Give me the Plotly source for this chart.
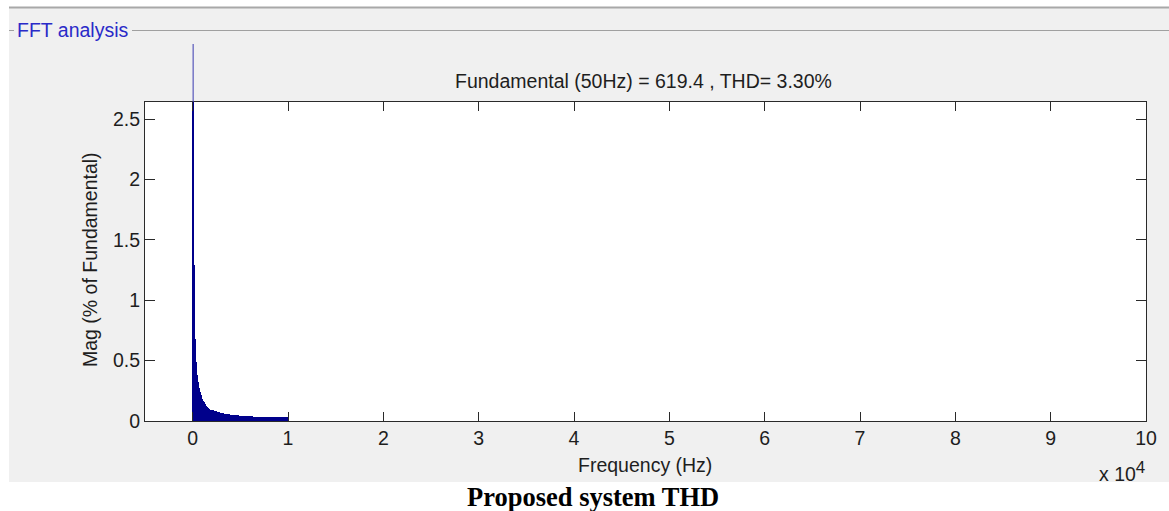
import plotly.graph_objects as go

# ---- data ----
fundamental_freq_hz = 50
fundamental_pct = 100.0          # fundamental bar, % of fundamental
title_text = "Fundamental (50Hz) = 619.4 , THD= 3.30%"

# harmonic magnitudes (% of fundamental) for harmonic orders 2, 3, 4, ... up to 10 kHz
harmonic_mag_pct = [
    1.31, 1.29, 0.72, 0.68, 0.55, 0.49, 0.42, 0.38, 0.34, 0.32,
    0.29, 0.27, 0.25, 0.24, 0.225, 0.215, 0.20, 0.19, 0.18, 0.175,
    0.167, 0.16, 0.155, 0.148, 0.14, 0.133, 0.127, 0.122, 0.117, 0.113,
    0.108, 0.104, 0.10, 0.097,
    0.095, 0.094, 0.093, 0.092, 0.091, 0.090, 0.089, 0.088, 0.086, 0.085, 0.083,
    0.082, 0.081, 0.080, 0.078, 0.077, 0.076, 0.075, 0.074, 0.072, 0.070,
    0.068, 0.067, 0.067, 0.066, 0.066, 0.065, 0.065, 0.064, 0.064,
    0.057, 0.056, 0.056, 0.056, 0.055, 0.055, 0.055, 0.055, 0.054, 0.054,
    0.054, 0.054, 0.053, 0.053, 0.053, 0.053, 0.052, 0.052, 0.052,
    0.047, 0.047, 0.047, 0.047, 0.046, 0.046, 0.046, 0.046, 0.046, 0.046,
    0.046, 0.046, 0.045, 0.045, 0.045, 0.045, 0.045, 0.045, 0.045, 0.045,
    0.045, 0.045, 0.045, 0.045, 0.045, 0.044, 0.044, 0.044, 0.044, 0.044,
    0.044, 0.044, 0.044, 0.044, 0.044, 0.044, 0.044, 0.044, 0.043, 0.043,
    0.036, 0.036, 0.036, 0.036, 0.036, 0.036, 0.036, 0.036, 0.036, 0.036,
    0.036, 0.036, 0.036, 0.036, 0.036, 0.036, 0.036, 0.036, 0.036, 0.036,
    0.035, 0.035, 0.035, 0.035, 0.035, 0.035, 0.035, 0.035, 0.035, 0.035,
    0.035, 0.035, 0.035, 0.035, 0.035, 0.035, 0.035, 0.035, 0.035, 0.035,
    0.035, 0.035, 0.035, 0.035, 0.035, 0.035, 0.035, 0.035, 0.035, 0.035,
    0.034, 0.034, 0.034, 0.034, 0.034, 0.034, 0.034, 0.034, 0.034, 0.034,
    0.034, 0.034, 0.034, 0.034, 0.034, 0.034, 0.034, 0.034, 0.034, 0.034,
    0.034, 0.034, 0.034, 0.034, 0.034, 0.034,
]
harmonic_freq_hz = [fundamental_freq_hz * (i + 2) for i in range(len(harmonic_mag_pct))]

x_tick_vals = [0, 10000, 20000, 30000, 40000, 50000, 60000, 70000, 80000, 90000, 100000]
x_tick_text = ["0", "1", "2", "3", "4", "5", "6", "7", "8", "9", "10"]
y_tick_vals = [0, 0.5, 1, 1.5, 2, 2.5]
y_tick_text = ["0", "0.5", "1", "1.5", "2", "2.5"]

# ---- styling ----
W, H = 1169, 511
L, R, T, B = 145, 23, 102, 90
PW, PH = W - L - R, H - T - B
BAR = "#00008B"
PANEL = "#f0f0f0"
TXT = "#1e1e1e"
FONT = "Arial, Liberation Sans, sans-serif"
FS = 19.5


def px(xp):
    return (xp - L) / PW


def py(yp):
    return (H - B - yp) / PH


fig = go.Figure()
fig.add_trace(go.Bar(
    x=[fundamental_freq_hz] + harmonic_freq_hz,
    y=[fundamental_pct] + harmonic_mag_pct,
    width=fundamental_freq_hz,
    marker=dict(color=BAR, line=dict(width=0)),
    showlegend=False,
    hoverinfo="x+y",
))

shapes = [
    # white page areas round the grey panel
    dict(type="rect", xref="paper", yref="paper", x0=px(-5), x1=px(W + 5), y0=py(0), y1=py(7),
         fillcolor="white", line=dict(width=0), layer="above"),
    dict(type="rect", xref="paper", yref="paper", x0=px(-5), x1=px(9), y0=py(-5), y1=py(H + 5),
         fillcolor="white", line=dict(width=0), layer="above"),
    dict(type="rect", xref="paper", yref="paper", x0=px(-5), x1=px(W + 5), y0=py(482), y1=py(H + 5),
         fillcolor="white", line=dict(width=0), layer="above"),
    # top border line of the panel
    dict(type="line", xref="paper", yref="paper", x0=px(9), x1=px(W + 5), y0=py(7.5), y1=py(7.5),
         line=dict(color="#a8a8a8", width=2), layer="above"),
    # group box lines
    dict(type="line", xref="paper", yref="paper", x0=px(9), x1=px(14), y0=py(30.5), y1=py(30.5),
         line=dict(color="#a0a0a0", width=1), layer="above"),
    dict(type="line", xref="paper", yref="paper", x0=px(132), x1=px(W + 5), y0=py(30.5), y1=py(30.5),
         line=dict(color="#a0a0a0", width=1), layer="above"),
    # fundamental bar overshooting the axes top
    dict(type="line", xref="x", yref="paper", x0=fundamental_freq_hz, x1=fundamental_freq_hz,
         y0=1, y1=py(44), line=dict(color="#3a3ab0", width=1), layer="above"),
]

annotations = [
    dict(text="FFT analysis", xref="paper", yref="paper", x=px(15), y=py(30), xanchor="left",
         yanchor="middle", showarrow=False, font=dict(family=FONT, size=FS, color="#2a2ac8")),
    dict(text="Frequency (Hz)", xref="paper", yref="paper", x=px(645), y=py(465), xanchor="center",
         yanchor="middle", showarrow=False, font=dict(family=FONT, size=FS, color=TXT)),
    dict(text="Mag (% of Fundamental)", xref="paper", yref="paper", x=px(90), y=py(260),
         xanchor="center", yanchor="middle", textangle=-90, showarrow=False,
         font=dict(family=FONT, size=FS, color=TXT)),
    dict(text="x 10<sup><span style='font-size:17px'>4</span></sup>", xref="paper", yref="paper",
         x=px(1147), y=py(456), xanchor="right", yanchor="top", showarrow=False,
         font=dict(family=FONT, size=FS, color=TXT)),
    dict(text="<b>Proposed system THD</b>", xref="paper", yref="paper", x=px(593), y=py(497),
         xanchor="center", yanchor="middle", showarrow=False,
         font=dict(family="Times New Roman, Liberation Serif, serif", size=26.5, color="black")),
    dict(text=title_text, xref="paper", yref="paper", x=px(643), y=py(81), xanchor="center",
         yanchor="middle", showarrow=False, font=dict(family=FONT, size=FS, color=TXT)),
]

axis_common = dict(
    showline=True, linecolor="#2a2a2a", linewidth=1, mirror="ticks",
    ticks="inside", tickcolor="#2a2a2a", tickwidth=1,
    showgrid=False, zeroline=False,
    tickfont=dict(family=FONT, size=FS, color=TXT),
)

fig.update_layout(
    width=W, height=H,
    margin=dict(l=L, r=R, t=T, b=B, pad=0),
    paper_bgcolor=PANEL, plot_bgcolor="white",
    bargap=0,
    shapes=shapes, annotations=annotations,
    xaxis=dict(range=[-5000, 100000], tickvals=x_tick_vals, ticktext=x_tick_text,
               ticklen=9, **axis_common),
    yaxis=dict(range=[0, 2.643], tickvals=y_tick_vals, ticktext=y_tick_text,
               ticklen=10, **axis_common),
)

fig.write_html("out.html")
